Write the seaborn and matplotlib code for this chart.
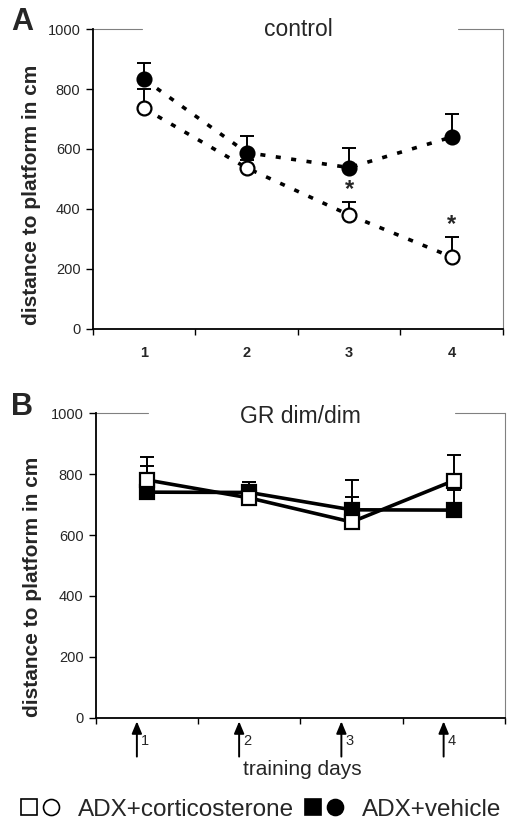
import numpy as np
import pandas as pd
import matplotlib
matplotlib.use('Agg')
import matplotlib.pyplot as plt
import seaborn as sns
from matplotlib.lines import Line2D
from matplotlib.legend_handler import HandlerTuple

sns.set_theme(style='white')
plt.rcParams['font.family'] = ['Liberation Sans', 'DejaVu Sans']

# training days
days = [1, 2, 3, 4]

# panel A: control animals
ctrl_cort = [735, 537, 380, 240]
ctrl_cort_err = [64, 25, 43, 66]
ctrl_veh = [832, 588, 538, 640]
ctrl_veh_err = [56, 55, 66, 77]
ctrl_sig_days = [3, 4]

# panel B: GR dim/dim animals
gr_cort = [781, 722, 643, 779]
gr_cort_err = [76, 53, 81, 84]
gr_veh = [741, 740, 683, 682]
gr_veh_err = [86, 36, 98, 67]

GRAY = '#808080'


def style_axes(ax, top_gap):
    ax.set_xlim(0.5, 4.5)
    ax.set_ylim(0, 1000)
    ax.set_yticks(range(0, 1001, 200))
    ax.tick_params(axis='y', labelsize=10.5, direction='out', length=5,
                   width=1, color='black', left=True, pad=4)
    ax.set_xticks([0.5, 1.5, 2.5, 3.5, 4.5], labels=[''] * 5)
    ax.tick_params(axis='x', which='major', direction='out', length=4,
                   width=1, color='black', bottom=True)
    for s in ['left', 'bottom']:
        ax.spines[s].set_color('black')
        ax.spines[s].set_linewidth(1.3)
    ax.spines['right'].set_color(GRAY)
    ax.spines['right'].set_linewidth(0.8)
    ax.spines['top'].set_visible(False)
    ax.axhline(1000, 0, top_gap[0], color=GRAY, lw=0.8, clip_on=False)
    ax.axhline(1000, top_gap[1], 1, color=GRAY, lw=0.8, clip_on=False)
    ax.set_xlabel('')
    ax.set_ylabel('')


def draw_series(ax, vals, err, marker, face, ls, ms):
    ax.errorbar(days, vals, yerr=[np.zeros(len(err)), err], fmt='none',
                ecolor='black', elinewidth=1.4, capsize=5, capthick=1.4,
                zorder=2)
    sns.lineplot(x=days, y=vals, ax=ax, color='black', linestyle=ls,
                 linewidth=2.6, marker=marker, markersize=ms,
                 markerfacecolor=face, markeredgecolor='black',
                 markeredgewidth=1.6, zorder=3)


fig = plt.figure(figsize=(5.07, 8.31), dpi=100)

# ---- panel A
axA = fig.add_axes([0.1834, 0.6041, 0.8087, 0.361])
dotted = (0, (1.4, 2.9))
draw_series(axA, ctrl_veh, ctrl_veh_err, 'o', 'black', dotted, 10)
draw_series(axA, ctrl_cort, ctrl_cort_err, 'o', 'white', dotted, 10)
for d in ctrl_sig_days:
    i = days.index(d)
    axA.text(d, ctrl_cort[i] + ctrl_cort_err[i] + 4, '*', ha='center',
             va='bottom', fontsize=17, fontweight='bold')
style_axes(axA, (0.12, 0.89))
axA.set_xticks(days, labels=[str(d) for d in days], minor=True)
axA.tick_params(axis='x', which='minor', length=0, pad=12, labelsize=10.5)
for t in axA.get_xticklabels(minor=True):
    t.set_fontweight('bold')
axA.text(0.5, 1.0, 'control', transform=axA.transAxes, ha='center',
         va='center', fontsize=16.5)

# ---- panel B
axB = fig.add_axes([0.1893, 0.1364, 0.8067, 0.3662])
draw_series(axB, gr_veh, gr_veh_err, 's', 'black', '-', 10)
draw_series(axB, gr_cort, gr_cort_err, 's', 'white', '-', 10.5)
style_axes(axB, (0.127, 0.878))
axB.text(0.5, 0.99, 'GR dim/dim', transform=axB.transAxes, ha='center',
         va='center', fontsize=16.5)
for d in days:
    axB.annotate('', xy=(d - 0.1, -0.012), xytext=(d - 0.1, -0.128),
                 xycoords=('data', 'axes fraction'),
                 textcoords=('data', 'axes fraction'),
                 arrowprops=dict(arrowstyle='-|>,head_length=0.6,head_width=0.25',
                                 color='black', lw=1.4, shrinkA=0, shrinkB=0),
                 annotation_clip=False)
    axB.text(d - 0.06, -0.078, str(d), transform=axB.get_xaxis_transform(),
             ha='left', va='center', fontsize=10.5)
axB.text(0.504, -0.172, 'training days', transform=axB.transAxes,
         ha='center', va='center', fontsize=15)

# ---- shared labels
fig.text(0.062, 1 - 195 / 831, 'distance to platform in cm', rotation=90,
         ha='center', va='center', fontsize=15, fontweight='bold')
fig.text(0.064, 1 - 587 / 831, 'distance to platform in cm', rotation=90,
         ha='center', va='center', fontsize=15, fontweight='bold')
fig.text(0.044, 1 - 22 / 831, 'A', ha='center', va='center', fontsize=22,
         fontweight='bold')
fig.text(0.044, 1 - 407 / 831, 'B', ha='center', va='center', fontsize=22,
         fontweight='bold')

# ---- legend
def mk(marker, face):
    return Line2D([], [], marker=marker, ls='none', markerfacecolor=face,
                  markeredgecolor='black', markersize=11.5, markeredgewidth=1.2)

handles = [(mk('s', 'white'), mk('o', 'white')),
           (mk('s', 'black'), mk('o', 'black'))]
fig.legend(handles, ['ADX+corticosterone', 'ADX+vehicle'],
           handler_map={tuple: HandlerTuple(ndivide=None, pad=0.2)},
           ncol=2, loc='lower center', bbox_to_anchor=(0.515, -0.014),
           frameon=False, fontsize=17.5, handlelength=1.6,
           handletextpad=0.75, columnspacing=0.45)

fig.savefig('out.png', dpi=100)
